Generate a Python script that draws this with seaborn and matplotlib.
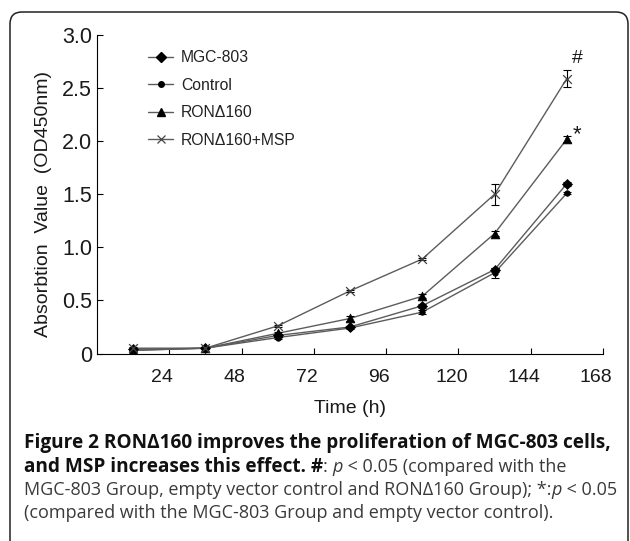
import matplotlib
matplotlib.use("Agg")
import matplotlib.pyplot as plt
import matplotlib.transforms as mtransforms
from matplotlib.lines import Line2D
from matplotlib.patches import FancyBboxPatch
import seaborn as sns
import pandas as pd

# ---------------- data ----------------
times = [12, 36, 60, 84, 108, 132, 156]
groups = ["MGC-803", "Control", "RONΔ160", "RONΔ160+MSP"]
mgc803 = [0.04, 0.05, 0.17, 0.25, 0.45, 0.79, 1.60]
control = [0.03, 0.05, 0.15, 0.24, 0.39, 0.76, 1.51]
ron160 = [0.03, 0.05, 0.19, 0.33, 0.54, 1.13, 2.02]
ron160_msp = [0.05, 0.05, 0.26, 0.59, 0.89, 1.50, 2.59]
err_mgc803 = [0.01, 0.01, 0.01, 0.01, 0.02, 0.02, 0.02]
err_control = [0.01, 0.01, 0.01, 0.01, 0.02, 0.05, 0.01]
err_ron160 = [0.01, 0.01, 0.01, 0.02, 0.02, 0.02, 0.03]
err_msp = [0.01, 0.01, 0.01, 0.01, 0.01, 0.10, 0.08]
xticks = [24, 48, 72, 96, 120, 144, 168]
yticks = [0, 0.5, 1.0, 1.5, 2.0, 2.5, 3.0]
ytick_labels = ["0", "0.5", "1.0", "1.5", "2.0", "2.5", "3.0"]
sig_marks = ["#", "*"]

values = [mgc803, control, ron160, ron160_msp]
errors = [err_mgc803, err_control, err_ron160, err_msp]
markers = {"MGC-803": "D", "Control": "o", "RONΔ160": "^", "RONΔ160+MSP": "x"}
msizes = {"MGC-803": 26, "Control": 16, "RONΔ160": 40, "RONΔ160+MSP": 40}

df = pd.DataFrame({
    "time": times * 4,
    "value": sum(values, []),
    "group": [g for g in groups for _ in times],
})

sns.set_theme(style="ticks")
plt.rcParams["font.family"] = ["Liberation Sans", "DejaVu Sans"]

W, H = 630, 541
fig = plt.figure(figsize=(W / 100, H / 100), dpi=100)
fig.patch.set_facecolor("white")

ax_l, ax_r, ax_b, ax_t = 97, 603, 353.5, 35
ax = fig.add_axes([ax_l / W, 1 - ax_b / H, (ax_r - ax_l) / W, (ax_b - ax_t) / H])
ax.set_facecolor("white")

line_col = "#5c5c5c"
sns.lineplot(data=df, x="time", y="value", hue="group", hue_order=groups,
             palette=[line_col] * 4, linewidth=1.0, legend=False, ax=ax,
             estimator=None, sort=False)

for g, v, e in zip(groups, values, errors):
    ax.errorbar(times, v, yerr=e, fmt="none", ecolor="black",
                elinewidth=0.8, capsize=3, capthick=0.8, zorder=3)
    sub = df[df["group"] == g]
    if markers[g] == "x":
        sns.scatterplot(data=sub, x="time", y="value", marker="x", s=msizes[g],
                        color="#444444", linewidth=0.9, legend=False, ax=ax, zorder=4)
    else:
        sns.scatterplot(data=sub, x="time", y="value", marker=markers[g], s=msizes[g],
                        color="black", edgecolor="black", linewidth=0.5,
                        legend=False, ax=ax, zorder=4)

ax.set_xlim(0, 168)
ax.set_ylim(0, 3.0)
ax.set_xticks(xticks)
ax.set_yticks(yticks)
ax.set_yticklabels(ytick_labels)
ax.tick_params(axis="both", direction="in", length=4, width=0.8, color="black")
ax.tick_params(axis="x", labelsize=14, pad=11, labelcolor="#1a1a1a")
ax.tick_params(axis="y", labelsize=15.5, pad=3.5, labelcolor="#1a1a1a")
offset = mtransforms.ScaledTranslation(-7 / 100, 0, fig.dpi_scale_trans)
for lab in ax.get_xticklabels():
    lab.set_transform(lab.get_transform() + offset)
sns.despine(ax=ax)
for sp in ["left", "bottom"]:
    ax.spines[sp].set_color("black")
    ax.spines[sp].set_linewidth(0.8)
ax.set_xlabel("Time (h)", fontsize=14, color="#1a1a1a", labelpad=10)
ax.set_ylabel("Absorbtion  Value  (OD450nm)", fontsize=14, color="#1a1a1a")
ax.yaxis.set_label_coords(-0.088, 0.47)

# significance marks
ax.text(159.5, 2.78, sig_marks[0], fontsize=14, ha="center", va="center", color="#1a1a1a")
ax.text(159.5, 2.06, sig_marks[1], fontsize=16, ha="center", va="center", color="#1a1a1a")

# legend
handles = []
for g in groups:
    if markers[g] == "x":
        handles.append(Line2D([], [], color=line_col, lw=1.0, marker="x", ms=6,
                              markeredgecolor="#444444", markeredgewidth=0.9))
    else:
        handles.append(Line2D([], [], color=line_col, lw=1.0, marker=markers[g],
                              ms={"D": 5, "o": 4, "^": 6}[markers[g]],
                              markerfacecolor="black", markeredgecolor="black"))
leg = ax.legend(handles, groups, loc="upper left",
                bbox_to_anchor=(148 / W, 1 - 50 / H), bbox_transform=fig.transFigure,
                frameon=False, fontsize=11.3, handlelength=1.6, handletextpad=0.5,
                labelspacing=0.8, borderpad=0, borderaxespad=0)
for t in leg.get_texts():
    t.set_color("#222222")

# rounded frame
frame = FancyBboxPatch((0.10, -0.6), 6.18, 5.29 + 0.6,
                       boxstyle="round,pad=0,rounding_size=0.12",
                       transform=fig.dpi_scale_trans, fill=False,
                       edgecolor="#222222", linewidth=1.1)
fig.add_artist(frame)

# caption
fig.canvas.draw()
renderer = fig.canvas.get_renderer()
fam = ["Open Sans", "DejaVu Sans"]
bold = dict(family=fam, fontweight="bold", color="#111111", fontsize=13.7)
reg = dict(family=fam, fontweight="normal", color="#3a3a3a", fontsize=13.0)
ital = dict(family=fam, fontweight="normal", style="italic", color="#3a3a3a", fontsize=13.0)


def width_of(txt, kw):
    a = fig.text(0, 0, txt + ".", **kw)
    b = fig.text(0, 0, ".", **kw)
    w = a.get_window_extent(renderer).width - b.get_window_extent(renderer).width
    a.remove()
    b.remove()
    return w


def draw_line(pieces, x0, y_px):
    x = x0
    for txt, kw in pieces:
        fig.text(x / W, 1 - y_px / H, txt, ha="left", va="baseline", **kw)
        x += width_of(txt, kw)


caption_lines = [
    [("Figure 2 RONΔ160 improves the proliferation of MGC-803 cells,", bold)],
    [("and MSP increases this effect. ", bold), ("#", bold), (": ", reg), ("p", ital),
     (" < 0.05 (compared with the", reg)],
    [("MGC-803 Group, empty vector control and RONΔ160 Group); *:", reg), ("p", ital),
     (" < 0.05", reg)],
    [("(compared with the MGC-803 Group and empty vector control).", reg)],
]
baselines = [448, 471.5, 495, 518.5]
for pieces, yb in zip(caption_lines, baselines):
    draw_line(pieces, 24, yb)

fig.savefig("out.png", dpi=100, facecolor="white")
